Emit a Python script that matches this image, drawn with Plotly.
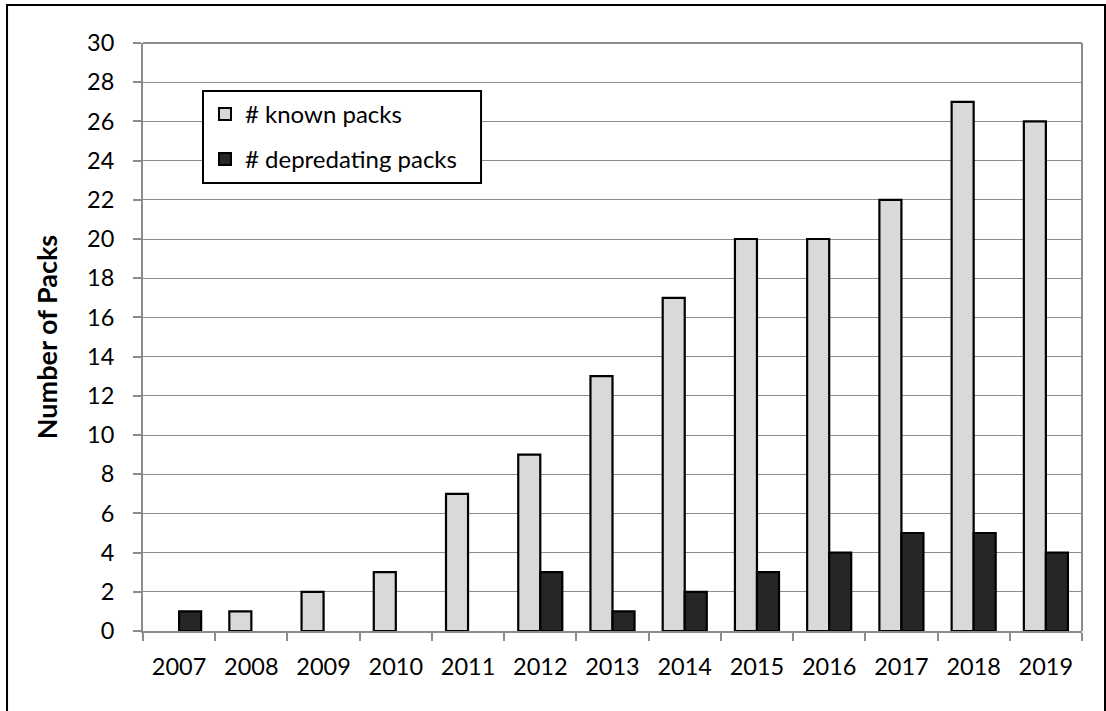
import plotly.graph_objects as go

years = ["2007", "2008", "2009", "2010", "2011", "2012", "2013",
         "2014", "2015", "2016", "2017", "2018", "2019"]
known_packs = [0, 1, 2, 3, 7, 9, 13, 17, 20, 20, 22, 27, 26]
depredating_packs = [1, 0, 0, 0, 0, 3, 1, 2, 3, 4, 5, 5, 4]
y_ticks = list(range(0, 31, 2))

FONT = "Lato"
GRID = "#8c8c8c"


def outline_widths(values, w=2.2):
    # no outline on empty bars so nothing is drawn at zero
    return [0 if v == 0 else w for v in values]


fig = go.Figure()
fig.add_trace(go.Bar(
    x=years, y=known_packs, name="# known packs",
    marker=dict(color="#d9d9d9",
                line=dict(color="black", width=outline_widths(known_packs))),
    legendgroup="a",
))
fig.add_trace(go.Bar(
    x=years, y=depredating_packs, name="# depredating packs",
    marker=dict(color="#262626",
                line=dict(color="black", width=outline_widths(depredating_packs))),
    legendgroup="b",
))

# outer frame around the whole chart
fig.add_shape(type="rect", xref="paper", yref="paper",
              x0=-0.1448, x1=1.0245, y0=-0.14, y1=1.0646,
              line=dict(color="black", width=2), layer="above")

# right and top border of the plotting area
fig.add_shape(type="line", xref="paper", yref="paper",
              x0=1, x1=1, y0=0, y1=1, line=dict(color=GRID, width=2))
fig.add_shape(type="line", xref="paper", yref="paper",
              x0=0, x1=1, y0=1, y1=1, line=dict(color=GRID, width=2))

# framed white box behind the legend entries
fig.add_shape(type="rect", xref="paper", yref="paper",
              x0=0.0639, x1=0.36, y0=0.7619, y1=0.9184,
              fillcolor="white", line=dict(color="black", width=2),
              layer="above")

fig.update_layout(
    width=1106, height=711,
    margin=dict(l=143, r=24, t=43, b=80),
    paper_bgcolor="white", plot_bgcolor="white",
    barmode="group", bargap=0.39, bargroupgap=0,
    font=dict(family=FONT, color="black", size=23),
    showlegend=True,
    legend=dict(
        x=0.066, y=0.917, xanchor="left", yanchor="top",
        borderwidth=0, bgcolor="rgba(0,0,0,0)",
        font=dict(family=FONT, size=24, color="black"),
        tracegroupgap=11, itemsizing="constant",
        traceorder="grouped", itemwidth=30,
    ),
    xaxis=dict(
        showline=True, linecolor=GRID, linewidth=2,
        ticks="outside", ticklen=8, tickcolor=GRID, tickwidth=1.5,
        tickson="boundaries", showgrid=False,
        tickfont=dict(family=FONT, size=23.5, color="black"),
        ticklabelstandoff=14,
    ),
    yaxis=dict(
        range=[0, 30], tickvals=y_ticks,
        showline=True, linecolor=GRID, linewidth=2,
        ticks="outside", ticklen=8, tickcolor=GRID, tickwidth=1.5,
        showgrid=True, gridcolor=GRID, gridwidth=1.2,
        zeroline=False,
        tickfont=dict(family=FONT, size=23.5, color="black"),
        ticklabelstandoff=14,
        title=dict(text="<b>Number of Packs</b>", standoff=22,
                   font=dict(family=FONT, size=27, color="black")),
    ),
)

fig.write_html("out.html")
